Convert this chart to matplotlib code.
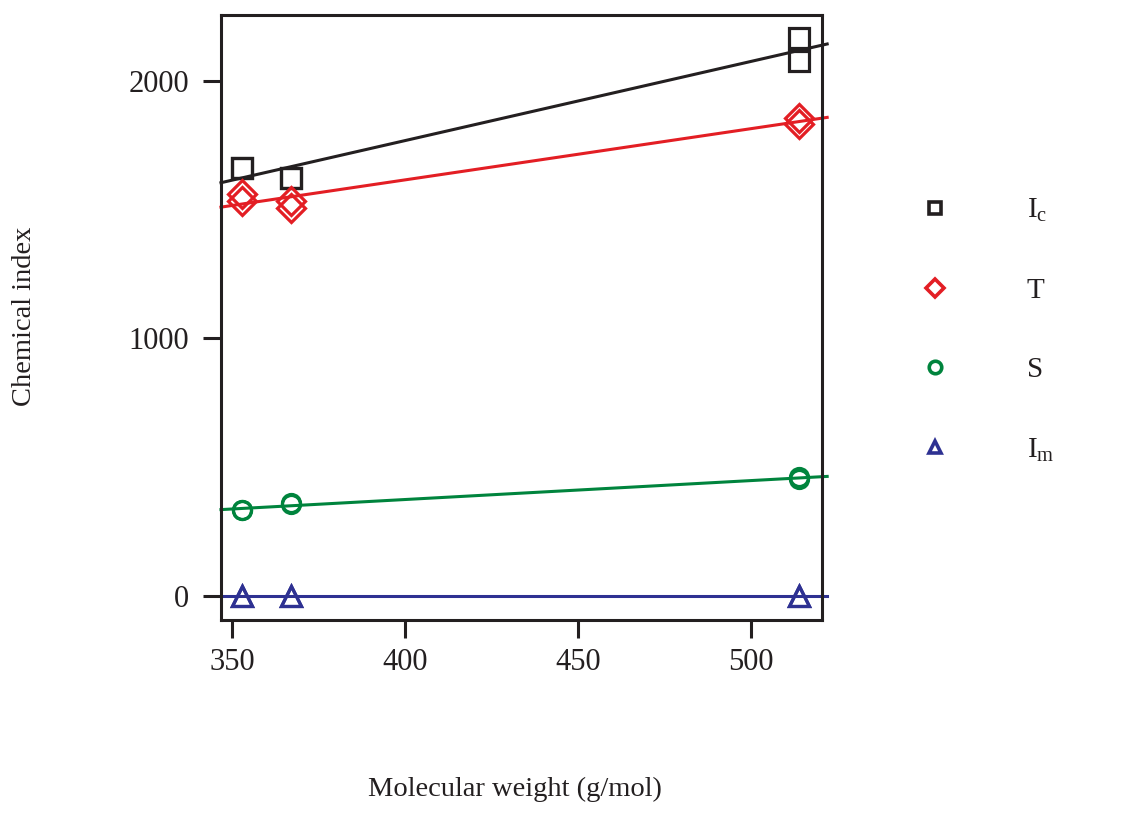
import numpy as np
from matplotlib import pyplot as plt
from matplotlib.lines import Line2D

plt.rcParams["font.family"] = "Liberation Serif"
plt.rcParams["mathtext.fontset"] = "custom"
plt.rcParams["mathtext.rm"] = "Liberation Serif"
plt.rcParams["mathtext.it"] = "Liberation Serif"

# data
mw = [353, 353, 367, 367, 514, 514]
ic = [1663, 1663, 1624, 1624, 2167, 2078]
t = [1562, 1535, 1535, 1508, 1857, 1833]
s = [333, 333, 360, 357, 461, 455]
im = [0, 0, 0, 0, 0, 0]

series_names = [r"I$_\mathrm{c}$", "T", "S", r"I$_\mathrm{m}$"]
series_vals = [ic, t, s, im]
colors = ["#231f20", "#e31e24", "#00843d", "#2e3192"]
markers = ["s", "D", "o", "^"]

xticks = [350, 400, 450, 500]
yticks = [0, 1000, 2000]

fig = plt.figure(figsize=(11.24, 8.14), dpi=100)
ax = fig.add_axes([0.1966, 0.2383, 0.5347, 0.7433])
ax.set_xlim(346.8, 520.5)
ax.set_ylim(-93, 2256)

x_line = np.array([346.8, 522.0])
for vals, col, mk in zip(series_vals, colors, markers):
    msize = 14 if mk != "o" else 13
    ax.plot(mw, vals, linestyle="none", marker=mk, markersize=msize,
            markerfacecolor="none", markeredgecolor=col, markeredgewidth=2.3,
            clip_on=False, zorder=3)
    k, b = np.polyfit(mw, vals, 1)
    ax.plot(x_line, k * x_line + b, color=col, linewidth=2.2, clip_on=False, zorder=2)

for sp in ax.spines.values():
    sp.set_linewidth(2.2)
    sp.set_color("#231f20")

ax.set_xticks(xticks)
ax.set_yticks(yticks)
ax.tick_params(axis="both", direction="out", length=13, width=2.2,
               color="#231f20", labelsize=22, labelcolor="#231f20", pad=7)
ax.tick_params(axis="y", pad=10)

fig.text(0.022, 0.612, "Chemical index", rotation=90, ha="center", va="center",
         fontsize=20.5, color="#231f20")
fig.text(0.458, 0.015, "Molecular weight (g/mol)", ha="center", va="bottom",
         fontsize=20.5, color="#231f20")

handles = []
for col, mk in zip(colors, markers):
    handles.append(Line2D([], [], linestyle="none", marker=mk, markersize=9,
                          markerfacecolor="none", markeredgecolor=col,
                          markeredgewidth=2.6))
leg = fig.legend(handles, series_names, loc="upper left",
                 bbox_to_anchor=(0.793, 0.79), frameon=False, fontsize=21,
                 labelspacing=1.82, handletextpad=2.55, handlelength=1.2)
for txt in leg.get_texts():
    txt.set_color("#231f20")

fig.savefig("out.png", dpi=100)
